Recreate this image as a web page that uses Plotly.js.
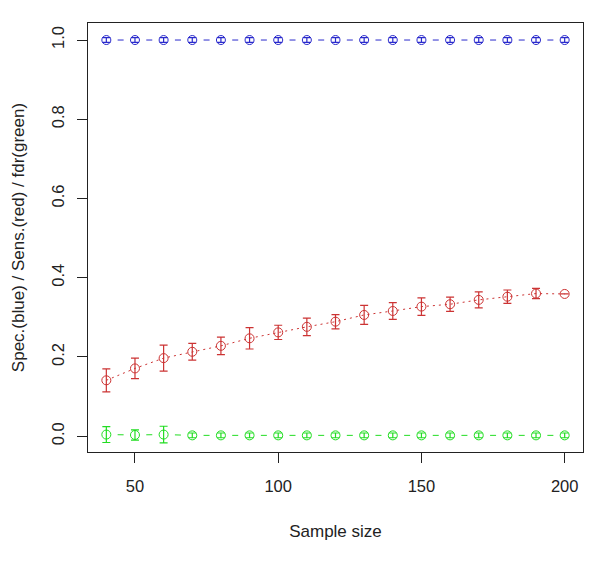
<!DOCTYPE html>
<html>
<head>
<meta charset="utf-8">
<script src="https://cdn.plot.ly/plotly-3.0.1.min.js"></script>
<style>html,body{margin:0;padding:0;background:#fff;}#chart{width:601px;height:562px;}</style>
</head>
<body>
<div id="chart"></div>
<script>
var sampleSize = [40, 50, 60, 70, 80, 90, 100, 110, 120, 130, 140, 150, 160, 170, 180, 190, 200];
var specBlue = [1.0, 1.0, 1.0, 1.0, 1.0, 1.0, 1.0, 1.0, 1.0, 1.0, 1.0, 1.0, 1.0, 1.0, 1.0, 1.0, 1.0];
var specErr  = [0.006, 0.006, 0.006, 0.006, 0.006, 0.006, 0.006, 0.006, 0.006, 0.006, 0.006, 0.006, 0.006, 0.006, 0.006, 0.006, 0.006];
var sensRed  = [0.141, 0.171, 0.197, 0.213, 0.228, 0.247, 0.262, 0.276, 0.289, 0.306, 0.316, 0.327, 0.333, 0.344, 0.352, 0.360, 0.359];
var sensErr  = [0.029, 0.026, 0.033, 0.021, 0.022, 0.027, 0.018, 0.022, 0.018, 0.024, 0.021, 0.022, 0.018, 0.020, 0.017, 0.013, 0.0];
var fdrGreen = [0.004, 0.003, 0.004, 0.002, 0.002, 0.002, 0.002, 0.002, 0.002, 0.002, 0.002, 0.002, 0.002, 0.002, 0.002, 0.002, 0.002];
var fdrErr   = [0.020, 0.013, 0.021, 0.006, 0.006, 0.006, 0.006, 0.006, 0.006, 0.006, 0.006, 0.006, 0.006, 0.006, 0.006, 0.006, 0.006];
var xTicks = [50, 100, 150, 200];
var yTicks = [0, 0.2, 0.4, 0.6, 0.8, 1.0];
var yTickText = ['0.0', '0.2', '0.4', '0.6', '0.8', '1.0'];

var blue = '#2a2acc', red = '#cc3333', green = '#22dd22';
var gapDash = '0px,11.3px,6px,11.35px';

function series(y, err, color, dash) {
  return {
    x: sampleSize, y: y, type: 'scatter', mode: 'lines+markers',
    line: {color: color, width: 1, dash: dash},
    marker: {symbol: 'circle-open', size: 9, color: color, line: {color: color, width: 1}},
    error_y: {type: 'data', array: err, visible: true, color: color, thickness: 1.2, width: 4},
    showlegend: false, hoverinfo: 'skip'
  };
}

var data = [
  series(specBlue, specErr, blue, gapDash),
  series(sensRed, sensErr, red, '2px,4px'),
  series(fdrGreen, fdrErr, green, gapDash)
];

var tickFont = {family: 'Liberation Sans, Arial, sans-serif', size: 16.5, color: '#222'};
var titleFont = {family: 'Liberation Sans, Arial, sans-serif', size: 17, color: '#222'};
var layout = {
  width: 601, height: 562,
  margin: {l: 88, r: 18, t: 23, b: 110},
  paper_bgcolor: '#fff', plot_bgcolor: '#fff',
  font: tickFont,
  xaxis: {
    range: [33.6, 206.4], tickvals: xTicks, ticktext: xTicks.map(String), tickfont: tickFont,
    showgrid: false, zeroline: false, showline: true, mirror: true, linecolor: '#222', linewidth: 1,
    ticks: 'outside', ticklen: 10, tickcolor: '#222', tickwidth: 1, ticklabelstandoff: 9,
    title: {text: 'Sample size', font: titleFont, standoff: 31}
  },
  yaxis: {
    range: [-0.040, 1.043], tickvals: yTicks, ticktext: yTickText, tickangle: -90, tickfont: tickFont,
    showgrid: false, zeroline: false, showline: true, mirror: true, linecolor: '#222', linewidth: 1,
    ticks: 'outside', ticklen: 10, tickcolor: '#222', tickwidth: 1, ticklabelstandoff: 6,
    title: {text: 'Spec.(blue) / Sens.(red) / fdr(green)', font: titleFont, standoff: 20}
  }
};

Plotly.newPlot('chart', data, layout, {displayModeBar: false, staticPlot: true});
</script>
</body>
</html>
